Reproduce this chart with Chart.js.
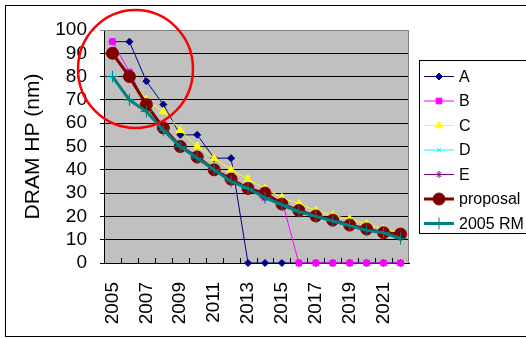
<!DOCTYPE html>
<html><head><meta charset="utf-8">
<script src="https://cdn.jsdelivr.net/npm/chart.js@4/dist/chart.umd.min.js"></script>
<style>html,body{margin:0;padding:0;background:#fff;}#wrap{width:526px;height:338px;}</style>
</head><body><div id="wrap"><canvas id="c" width="526" height="338"></canvas></div>
<script>
const years = ['2005','2006','2007','2008','2009','2010','2011','2012','2013','2014','2015','2016','2017','2018','2019','2020','2021','2022'];
const seriesA = [95,95,78,68,55,55,45,45,0,0,0,0,0,0,0,0,0,0];
const seriesB = [95,82,68,57,50,45,40,35,32,28,27,0,0,0,0,0,0,0];
const seriesC = [90,80,70,65,57,50,45,40,36,32,28,25.5,22.5,20.5,18.8,16.7,14.6,13];
const seriesD = [80,70,65,57,50,45,40,36,32,27.5,25,22,20,18,16,14,13,11];
const seriesE = [90,80,68,58,50,45,40,36,32,28,25,22,20,18,16,14,13,12];
const proposal = [90,80,68,58,50,45.5,40,36,32,30,25.3,22.5,20.2,18.4,16.3,14.6,13,12.4];
const rm2005 = [80,70,65,57,50,45,40,35,32,28,25,22,20,18,16,14,13,10.5];
const yTicks = {min:0, max:100, step:10};
const yTitle = 'DRAM HP (nm)';

const FONT = "'Liberation Sans', Arial, sans-serif";

function ds(label, data, color, style, radius, bw, idx){
  return {label, data, borderColor: color, backgroundColor: color, borderWidth: bw,
    pointStyle: style, pointRadius: radius, pointBorderWidth: 1, pointBackgroundColor: color,
    pointBorderColor: color, tension: 0, clip: false, order: 6 - idx, fill: false};
}
const datasets = [
  ds('A', seriesA, '#000080', 'rectRot', 3.5, 1, 0),
  ds('B', seriesB, '#ff00ff', 'rect', 4, 1, 1),
  ds('C', seriesC, '#ffff00', 'triangle', 4.5, 1, 2),
  ds('D', seriesD, '#00ffff', 'crossRot', 3.5, 1, 3),
  ds('E', seriesE, '#800080', 'star', 3.5, 1, 4),
  ds('proposal', proposal, '#800000', 'circle', 6, 3, 5),
  ds('2005 RM', rm2005, '#008080', 'cross', 6, 3, 6)
];

const decor = {
  id: 'decor',
  beforeDraw(chart){
    const ctx = chart.ctx, a = chart.chartArea;
    ctx.save();
    ctx.fillStyle = '#fff';
    ctx.fillRect(0,0,chart.width,chart.height);
    ctx.fillStyle = '#c0c0c0';
    ctx.fillRect(a.left, a.top, a.right - a.left, a.bottom - a.top);
    ctx.strokeStyle = '#000'; ctx.lineWidth = 1;
    ctx.strokeRect(5.5, 5.5, 540, 331);
    ctx.restore();
  },
  beforeDatasetsDraw(chart){
    const ctx = chart.ctx, a = chart.chartArea;
    ctx.save();
    ctx.strokeStyle = '#808080'; ctx.lineWidth = 1;
    ctx.beginPath();
    ctx.moveTo(a.left, a.top + 0.5); ctx.lineTo(a.right - 0.5, a.top + 0.5); ctx.lineTo(a.right - 0.5, a.bottom);
    ctx.stroke();
    ctx.strokeStyle = '#000';
    const n = years.length, w = (a.right - a.left) / n;
    ctx.beginPath();
    for (let i = 1; i < n; i++){
      const x = Math.round(a.left + i * w) + 0.5;
      ctx.moveTo(x, a.bottom); ctx.lineTo(x, a.bottom - 5);
    }
    ctx.stroke();
    ctx.restore();
  },
  afterDraw(chart){
    const ctx = chart.ctx, a = chart.chartArea;
    ctx.save();
    const lx = 419.5, ly = 60.5, lw = 120, lh = 173;
    ctx.fillStyle = '#fff'; ctx.fillRect(lx, ly, lw, lh);
    ctx.strokeStyle = '#000'; ctx.lineWidth = 1; ctx.strokeRect(lx, ly, lw, lh);
    ctx.font = '16px ' + FONT; ctx.textBaseline = 'middle'; ctx.textAlign = 'left';
    chart.data.datasets.forEach((d, i) => {
      const y = 76.5 + i * 24.5;
      ctx.strokeStyle = d.borderColor; ctx.lineWidth = d.borderWidth;
      ctx.beginPath(); ctx.moveTo(424, y); ctx.lineTo(454, y); ctx.stroke();
      ctx.fillStyle = d.pointBackgroundColor; ctx.strokeStyle = d.pointBorderColor; ctx.lineWidth = 1;
      Chart.helpers.drawPoint(ctx, {pointStyle: d.pointStyle, radius: d.pointRadius, borderWidth: 1, rotation: 0}, 439, y);
      ctx.fillStyle = '#000';
      ctx.fillText(d.label, 459, y + 1);
    });
    ctx.strokeStyle = '#ff0000'; ctx.lineWidth = 2.5;
    ctx.beginPath();
    ctx.ellipse(a.left + 31.5, a.top + 39, 57.5, 59, 0, 0, Math.PI * 2);
    ctx.stroke();
    ctx.restore();
  }
};

new Chart(document.getElementById('c'), {
  type: 'line',
  data: {labels: years, datasets},
  options: {
    responsive: false, animation: false, devicePixelRatio: 1,
    layout: {padding: {left: 0, top: 30, right: 117, bottom: 0}},
    plugins: {legend: {display: false}, tooltip: {enabled: false}},
    scales: {
      x: {
        offset: true,
        grid: {display: false, drawTicks: false, offset: true},
        border: {display: true, color: '#000', width: 1},
        ticks: {autoSkip: false, maxRotation: 90, minRotation: 90, padding: 19, color: '#000',
          font: {family: FONT, size: 19},
          callback: (v, i) => (i % 2 === 0 ? years[i] : '')},
        afterFit: s => { s.height = 75; }
      },
      y: {
        min: yTicks.min, max: yTicks.max,
        grid: {color: ctx => (ctx.tick && ctx.tick.value === 100 ? '#808080' : '#000'), tickLength: 4, lineWidth: 1},
        border: {display: true, color: '#000', width: 1},
        ticks: {stepSize: yTicks.step, autoSkip: false, padding: 13, color: '#000', font: {family: FONT, size: 19}},
        title: {display: true, text: yTitle, color: '#000', font: {family: FONT, size: 21}, padding: {top: 21, bottom: 0}},
        afterFit: s => { s.width = 104; }
      }
    }
  },
  plugins: [decor]
});
</script></body></html>
